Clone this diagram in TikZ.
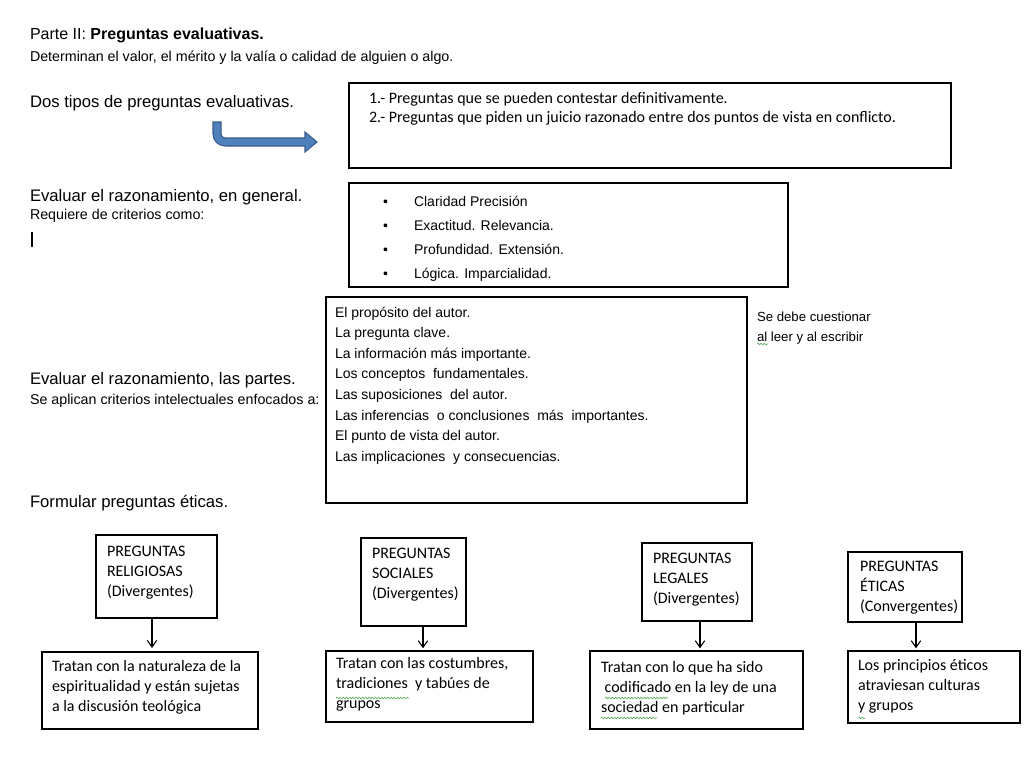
\documentclass[tikz,border=0pt]{standalone}
\usepackage{fontspec}
\setmainfont{Liberation Sans}
\newfontfamily\calfont{Carlito}
\usetikzlibrary{fit,arrows.meta,decorations.pathmorphing}
\definecolor{arrowblue}{HTML}{4F81BD}
\definecolor{arrowedge}{HTML}{385D8A}
\definecolor{spellgreen}{HTML}{5FAF5F}
\tikzset{
  txt/.style={anchor=base west, inner sep=0pt, outer sep=0pt},
  bigtxt/.style={txt, font=\fontsize{12.5pt}{15pt}\selectfont},
  smalltxt/.style={txt, font=\fontsize{10.7pt}{13pt}\selectfont},
  boxtxt/.style={txt, font=\fontsize{10.5pt}{18pt}\selectfont},
  listtxt/.style={txt, font=\fontsize{10.5pt}{15.45pt}\selectfont},
  caltxt/.style={txt, font=\calfont\fontsize{12pt}{15.2pt}\selectfont},
  frame/.style={draw=black, line width=1.1pt, inner sep=0pt, outer sep=0pt},
  conn/.style={draw=black, line width=0.8pt, -{Straight Barb[length=5pt,width=7pt]}},
  spell/.style={draw=spellgreen, line width=0.5pt, decorate, decoration={snake, amplitude=0.6pt, segment length=2.4pt}}
}
\begin{document}
\begin{tikzpicture}[x=0.75pt, y=-0.75pt]
\fill[white] (0,0) rectangle (1024,768);
\useasboundingbox (0,0) rectangle (1024,768);

% header
\node[txt, font=\fontsize{12pt}{15pt}\selectfont] (title) at (30,39) {Parte II: \textbf{Preguntas evaluativas.}};
\node[smalltxt] (sub) at (30,61) {Determinan el valor, el mérito y la valía o calidad de alguien o algo.};

% section 1
\node[bigtxt] (dos) at (30,107) {Dos tipos de preguntas evaluativas.};
\node[frame, fit={(349,83) (951,168)}] (b1) {};
\node[txt, font=\calfont\fontsize{12pt}{14.3pt}\selectfont] (b1t) at (369,103)
  {\vtop{\hbox{1.- Preguntas que se pueden contestar definitivamente.}
         \hbox{2.- Preguntas que piden un juicio razonado entre dos puntos de vista en conflicto.}}};
\filldraw[fill=arrowblue, draw=arrowedge, line width=0.8pt]
  (213,122) -- (221,122) -- (221,134)
  .. controls (221,136.2) and (222.8,138) .. (225,138)
  -- (305,138) -- (305,132) -- (317,142) -- (305,152) -- (305,146) -- (225,146)
  .. controls (218.4,146) and (213,140.6) .. (213,134) -- cycle;

% section 2
\node[bigtxt] (evg) at (30,201) {Evaluar el razonamiento, en general.};
\node[smalltxt] (req) at (30,219) {Requiere de criterios como:};
\fill[black] (30.5,232) rectangle (33,247);
\node[frame, fit={(349,183) (788,287)}] (b2) {};
\foreach \t [count=\i] in {Claridad Precisión, Exactitud. Relevancia., Profundidad. Extensión., Lógica. Imparcialidad.} {
  \node[boxtxt] (bul\i) at (383,{206+24*(\i-1)}) {\textbullet};
  \node[boxtxt] (crit\i) at (414,{206+24*(\i-1)}) {\t};
}

% section 3
\node[frame, fit={(326,297) (747,503)}] (b3) {};
\node[listtxt] (b3t) at (335,317)
  {\vtop{\hbox{El propósito del autor.}
   \hbox{La pregunta clave.}
   \hbox{La información más importante.}
   \hbox{Los conceptos\ \ fundamentales.}
   \hbox{Las suposiciones\ \ del autor.}
   \hbox{Las inferencias\ \ o conclusiones\ \ más\ \ importantes.}
   \hbox{El punto de vista del autor.}
   \hbox{Las implicaciones\ \ y consecuencias.}}};
\node[txt, font=\fontsize{9.9pt}{15.6pt}\selectfont] (cuest) at (757,321)
  {\vtop{\hbox{Se debe cuestionar}\hbox{al leer y al escribir}}};
\draw[spell] (757,344) -- (768,344);
\node[bigtxt] (evp) at (30,384) {Evaluar el razonamiento, las partes.};
\node[smalltxt] (apl) at (30,404) {Se aplican criterios intelectuales enfocados a:};

% section 4
\node[bigtxt] (form) at (30,507) {Formular preguntas éticas.};

\node[frame, fit={(96,535) (217,618)}] (rh) {};
\node[caltxt] (rht) at (107,556) {\vtop{\hbox{PREGUNTAS}\hbox{RELIGIOSAS}\hbox{(Divergentes)}}};
\node[frame, fit={(42,652) (258,729)}] (rb) {};
\node[caltxt] (rbt) at (52,671) {\vtop{\hbox{Tratan con la naturaleza de la}\hbox{espiritualidad y están sujetas}\hbox{a la discusión teológica}}};

\node[frame, fit={(361,538) (466,626)}] (sh) {};
\node[caltxt] (sht) at (372,558) {\vtop{\hbox{PREGUNTAS}\hbox{SOCIALES}\hbox{(Divergentes)}}};
\node[frame, fit={(326,651) (533,722)}] (sb) {};
\node[caltxt] (sbt) at (336,668) {\vtop{\hbox{Tratan con las costumbres,}\hbox{tradiciones\ \ y tabúes de}\hbox{grupos}}};

\node[frame, fit={(642,543) (752,621)}] (lh) {};
\node[caltxt] (lht) at (653,563) {\vtop{\hbox{PREGUNTAS}\hbox{LEGALES}\hbox{(Divergentes)}}};
\node[frame, fit={(590,651) (803,729)}] (lb) {};
\node[caltxt] (lbt) at (601,672) {\vtop{\hbox{Tratan con lo que ha sido}\hbox{\ codificado en la ley de una}\hbox{sociedad en particular}}};

\node[frame, fit={(848,552) (962,622)}] (eh) {};
\node[caltxt] (eht) at (860,571) {\vtop{\hbox{PREGUNTAS}\hbox{ÉTICAS}\hbox{(Convergentes)}}};
\node[frame, fit={(848,651) (1020,723)}] (eb) {};
\node[caltxt] (ebt) at (858,670) {\vtop{\hbox{Los principios éticos}\hbox{atraviesan culturas}\hbox{y grupos}}};

\draw[conn] (152,0 |- rh.south) -- ([yshift=3pt]152,0 |- rb.north);
\draw[conn] (423,0 |- sh.south) -- ([yshift=2pt]423,0 |- sb.north);
\draw[conn] (700,0 |- lh.south) -- ([yshift=2pt]700,0 |- lb.north);
\draw[conn] (916,0 |- eh.south) -- ([yshift=2pt]916,0 |- eb.north);

% spelling marks
\draw[spell] (336,698) -- (409,698);
\draw[spell] (605,698) -- (668,698);
\draw[spell] (601,718) -- (657,718);
\draw[spell] (858,718) -- (865,718);
\end{tikzpicture}
\end{document}
